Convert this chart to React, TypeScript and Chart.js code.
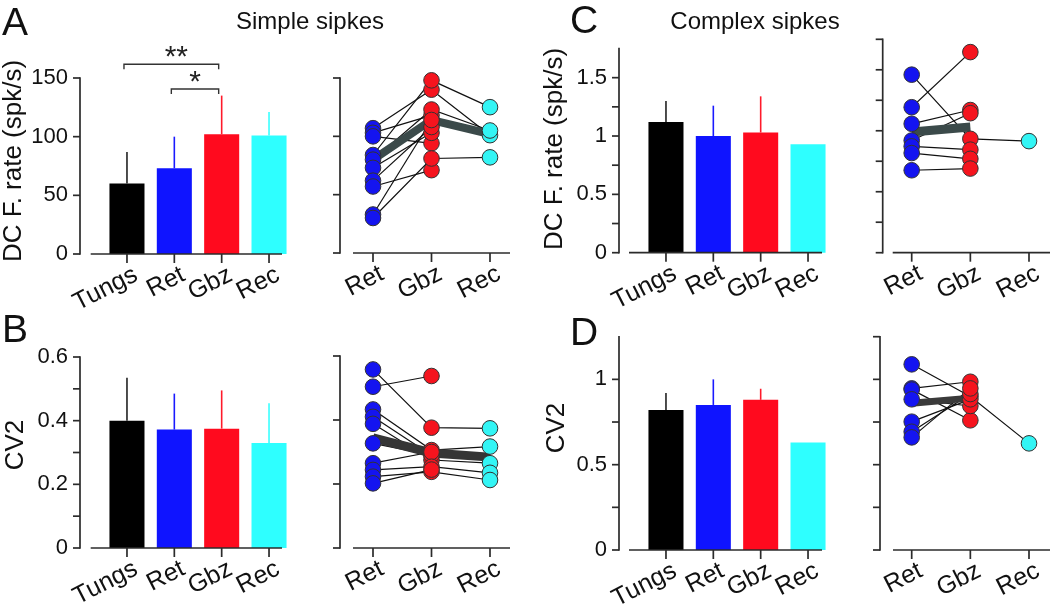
import React, { useEffect, useRef } from 'react';
import { Chart, registerables } from 'chart.js';

Chart.register(...registerables);

const W = 1050;
const H = 605;
const FONT = "'Liberation Sans', Arial, Helvetica, sans-serif";

// ---------------- categories ----------------
const barLabels = ['Tungs', 'Ret', 'Gbz', 'Rec'];
const pairLabels = ['Ret', 'Gbz', 'Rec'];

// ---------------- A: simple spikes, DC firing rate (bars) ----------------
const ssRateMean = [60, 73, 102, 101];
const ssRateErrTop = [87, 100, 135, 121];
const ssRateTickLabels = [0, 50, 100, 150];
const ssRateTickMarks = [0, 50, 100, 150];
// significance brackets (category index pairs, bracket level)
const sigFrom = [0, 1];
const sigTo = [2, 2];
const sigLevel = [161.7, 140.6];
const sigText = ['**', '*'];

// A: paired cells
const ssRateRet = [107, 103, 100, 84, 80, 73, 62, 57, 33, 30];
const ssRateGbz = [140, 118, 94, 148, 123, 103, 108, 71, 114, 81];
const ssRateRec = [101, null, null, 125, 105, null, null, null, null, 82];
const ssRatePairMean = [80, 114, 102];

// ---------------- B: simple spikes, CV2 ----------------
const ssCv2Mean = [0.4, 0.372, 0.375, 0.33];
const ssCv2ErrTop = [0.535, 0.485, 0.495, 0.455];
const ssCv2TickLabels = [0, 0.2, 0.4, 0.6];
const ssCv2TickMarks = [0, 0.1, 0.2, 0.3, 0.4, 0.5, 0.6];
const ssCv2PairTicks = [0, 0.2, 0.4, 0.6];

const ssCv2Ret = [0.558, 0.504, 0.433, 0.41, 0.388, 0.327, 0.265, 0.244, 0.223, 0.202];
const ssCv2Gbz = [0.376, 0.5375, 0.306, 0.29, 0.275, 0.29, 0.3, 0.254, 0.238, 0.245];
const ssCv2Rec = [0.374, null, 0.317, null, 0.265, null, null, 0.235, 0.2125, null];
const ssCv2PairMean = [0.344, 0.297, 0.284];

// ---------------- C: complex spikes, DC firing rate ----------------
const csRateMean = [1.12, 1.0, 1.03, 0.93];
const csRateErrTop = [1.3, 1.26, 1.34, null];
const csRateTickLabels = [0, 0.5, 1, 1.5];
const csRateTickMarks = [0, 0.25, 0.5, 0.75, 1, 1.25, 1.5];
const csRatePairTicks = [0, 0.25, 0.5, 0.75, 1, 1.25, 1.5, 1.75];

const csRateRet = [1.46, 1.193, 1.057, 0.92, 0.872, 0.817, 0.676];
const csRateGbz = [0.934, 1.645, 1.17, 1.144, 0.845, 0.77, 0.69];
const csRateRec = [0.915, null, null, null, null, null, null];
const csRatePairMean = [0.99, 1.03, null];

// ---------------- D: complex spikes, CV2 ----------------
const csCv2Mean = [0.82, 0.85, 0.88, 0.63];
const csCv2ErrTop = [0.92, 1.0, 0.945, null];
const csCv2TickLabels = [0, 0.5, 1];
const csCv2TickMarks = [0, 0.25, 0.5, 0.75, 1];
const csCv2PairTicks = [0, 0.25, 0.5, 0.75, 1, 1.25];

const csCv2Ret = [1.088, 0.947, 0.94, 0.883, 0.752, 0.693, 0.66];
const csCv2Gbz = [0.9, 0.986, 0.76, 0.844, 0.883, 0.914, 0.947];
const csCv2Rec = [0.625, null, null, null, null, null, null];
const csCv2PairMean = [0.86, 0.89, null];

// ---------------- styles ----------------
const barColors = ['#000000', '#0f14ff', '#ff0a1e', '#2effff'];
const errColors = ['#222222', '#1a1aff', '#ff1a2a', '#3affff'];
const ptColors = ['#1414f0', '#f5141e', '#33f5f5'];

const fmt = (v: number) => String(Math.round(v * 100) / 100);

const decorPlugin = {
  id: 'decor',
  afterDraw(chart: any) {
    const o = chart.options.plugins.decor;
    if (!o) return;
    const ctx = chart.ctx;
    const xs = chart.scales.x;
    const ys = chart.scales.y;
    const line = (x1: number, y1: number, x2: number, y2: number) => {
      ctx.beginPath();
      ctx.moveTo(x1, y1);
      ctx.lineTo(x2, y2);
      ctx.stroke();
    };
    ctx.save();
    ctx.lineCap = 'butt';
    // error bars
    if (o.err) {
      ctx.lineWidth = 1.6;
      o.err.top.forEach((t: number | null, i: number) => {
        if (t == null) return;
        ctx.strokeStyle = errColors[i];
        const x = xs.getPixelForValue(i);
        line(x, ys.getPixelForValue(o.err.base[i]), x, ys.getPixelForValue(t));
      });
    }
    // axes
    const a = o.axes;
    ctx.strokeStyle = '#2b2b2b';
    ctx.lineWidth = 1.7;
    const y0 = ys.getPixelForValue(0);
    line(a.yAxisX, ys.getPixelForValue(a.yTop) - 0.8, a.yAxisX, y0 + 0.8);
    a.yTicks.forEach((v: number) => {
      const y = ys.getPixelForValue(v);
      line(a.yAxisX - 7, y, a.yAxisX, y);
    });
    line(a.xFrom, y0, a.xTo, y0);
    for (let i = 0; i < xs.ticks.length; i++) {
      const x = xs.getPixelForTick(i);
      line(x, y0, x, y0 + 9);
    }
    // significance brackets
    if (o.sig) {
      ctx.lineWidth = 1.4;
      ctx.strokeStyle = '#333';
      o.sig.from.forEach((f: number, k: number) => {
        const x1 = xs.getPixelForValue(f) - 3;
        const x2 = xs.getPixelForValue(o.sig.to[k]) - 3;
        const y = ys.getPixelForValue(o.sig.level[k]);
        ctx.beginPath();
        ctx.moveTo(x1, y + 5);
        ctx.lineTo(x1, y);
        ctx.lineTo(x2, y);
        ctx.lineTo(x2, y + 5);
        ctx.stroke();
        ctx.fillStyle = '#222';
        ctx.font = `30px ${FONT}`;
        ctx.textAlign = 'center';
        ctx.textBaseline = 'alphabetic';
        const dx = o.sig.text[k].length > 1 ? 5 : 0;
        ctx.fillText(o.sig.text[k], (x1 + x2) / 2 + dx, y - 15 + 17);
      });
    }
    // free texts
    (o.texts || []).forEach((t: any) => {
      ctx.fillStyle = '#111';
      ctx.font = `${t.size}px ${FONT}`;
      ctx.textBaseline = 'alphabetic';
      if (t.rotate) {
        ctx.save();
        ctx.translate(t.x, t.y);
        ctx.rotate(-Math.PI / 2);
        ctx.textAlign = 'center';
        ctx.fillText(t.text, 0, 0);
        ctx.restore();
      } else {
        ctx.textAlign = t.align || 'left';
        ctx.fillText(t.text, t.x, t.y);
      }
    });
    ctx.restore();
  },
};
Chart.register(decorPlugin);

type Area = { left: number; right: number; top: number; bottom: number };

const xTickOpts = {
  autoSkip: false,
  minRotation: 27,
  maxRotation: 27,
  padding: 6,
  labelOffset: 9,
  color: '#111',
  font: { family: FONT, size: 25 },
};

function barChart(p: {
  values: number[];
  errTop: (number | null)[];
  max: number;
  area: Area;
  labels: number[];
  marks: number[];
  yAxisX: number;
  xFrom: number;
  xTo: number;
  texts: any[];
  sig?: any;
}) {
  return () => ({
    type: 'bar',
    data: {
      labels: barLabels,
      datasets: [
        {
          data: p.values,
          backgroundColor: barColors,
          borderWidth: 0,
          barPercentage: 0.74,
          categoryPercentage: 1,
          clip: false,
        },
      ],
    },
    options: {
      responsive: false,
      animation: false,
      events: [],
      layout: { autoPadding: false, padding: { left: 0, top: p.area.top, right: W - p.area.right, bottom: 0 } },
      plugins: {
        legend: { display: false },
        tooltip: { enabled: false },
        decor: {
          err: { top: p.errTop, base: p.values },
          axes: { yAxisX: p.yAxisX, yTop: p.max, yTicks: p.marks, xFrom: p.xFrom, xTo: p.xTo },
          texts: p.texts,
          sig: p.sig,
        },
      },
      scales: {
        x: {
          type: 'category',
          offset: true,
          grid: { display: false, drawTicks: false },
          border: { display: false },
          ticks: xTickOpts,
          afterFit: (s: any) => {
            s.height = H - p.area.bottom;
          },
        },
        y: {
          type: 'linear',
          min: 0,
          max: p.max,
          grid: { display: false, drawTicks: false },
          border: { display: false },
          ticks: {
            padding: p.area.left - p.yAxisX + 12,
            color: '#111',
            font: { family: FONT, size: 22 },
            callback: (v: number) => fmt(v),
          },
          afterBuildTicks: (s: any) => {
            s.ticks = p.labels.map((v) => ({ value: v }));
          },
          afterFit: (s: any) => {
            s.width = p.area.left;
          },
        },
      },
    },
  });
}

function pairChart(p: {
  ret: number[];
  gbz: number[];
  rec: (number | null)[];
  mean: (number | null)[];
  meanColor: string;
  meanWidth: number;
  max: number;
  area: Area;
  marks: number[];
  yAxisX: number;
  xFrom: number;
  xTo: number;
  texts: any[];
}) {
  return () => {
    const ds: any[] = [];
    [p.ret, p.gbz, p.rec].forEach((arr, k) => {
      ds.push({
        data: (arr as (number | null)[])
          .filter((v) => v != null)
          .map((v) => ({ x: pairLabels[k], y: v })),
        showLine: false,
        pointRadius: 7.8,
        pointBackgroundColor: ptColors[k],
        pointBorderColor: '#333',
        pointBorderWidth: 1,
        order: 0,
        clip: false,
      });
    });
    ds.push({
      data: p.mean,
      borderColor: p.meanColor,
      borderWidth: p.meanWidth,
      pointRadius: 0,
      order: 1,
      clip: false,
      borderCapStyle: 'butt',
    });
    p.ret.forEach((r, i) => {
      ds.push({
        data: [r, p.gbz[i], p.rec[i]],
        borderColor: '#111',
        borderWidth: 1.2,
        pointRadius: 0,
        order: 2,
        clip: false,
      });
    });
    return {
      type: 'line',
      data: { labels: pairLabels, datasets: ds },
      options: {
        responsive: false,
        animation: false,
        events: [],
        layout: { autoPadding: false, padding: { left: 0, top: p.area.top, right: W - p.area.right, bottom: 0 } },
        plugins: {
          legend: { display: false },
          tooltip: { enabled: false },
          decor: {
            axes: { yAxisX: p.yAxisX, yTop: p.max, yTicks: p.marks, xFrom: p.xFrom, xTo: p.xTo },
            texts: p.texts,
          },
        },
        scales: {
          x: {
            type: 'category',
            offset: false,
            grid: { display: false, drawTicks: false },
            border: { display: false },
            ticks: xTickOpts,
            afterFit: (s: any) => {
              s.height = H - p.area.bottom;
            },
          },
          y: {
            type: 'linear',
            min: 0,
            max: p.max,
            grid: { display: false, drawTicks: false },
            border: { display: false },
            ticks: { display: false },
            afterFit: (s: any) => {
              s.width = p.area.left;
            },
          },
        },
      },
    };
  };
}

const chartFactories = [
  barChart({
    values: ssRateMean,
    errTop: ssRateErrTop,
    max: 150,
    area: { left: 103.3, right: 292.7, top: 78, bottom: 254 },
    labels: ssRateTickLabels,
    marks: ssRateTickMarks,
    yAxisX: 80,
    xFrom: 90.7,
    xTo: 282,
    texts: [
      { text: 'A', x: 2, y: 35, size: 39 },
      { text: 'DC F. rate (spk/s)', x: 21, y: 161, size: 26, rotate: true },
    ],
    sig: { from: sigFrom, to: sigTo, level: sigLevel, text: sigText },
  }),
  pairChart({
    ret: ssRateRet,
    gbz: ssRateGbz,
    rec: ssRateRec,
    mean: ssRatePairMean,
    meanColor: '#3b4a4a',
    meanWidth: 8,
    max: 150,
    area: { left: 373, right: 490, top: 78, bottom: 253 },
    marks: ssRateTickMarks,
    yAxisX: 340,
    xFrom: 353,
    xTo: 510,
    texts: [{ text: 'Simple sipkes', x: 310, y: 29, size: 24, align: 'center' }],
  }),
  barChart({
    values: ssCv2Mean,
    errTop: ssCv2ErrTop,
    max: 0.6,
    area: { left: 103.3, right: 292.7, top: 357, bottom: 548 },
    labels: ssCv2TickLabels,
    marks: ssCv2TickMarks,
    yAxisX: 80,
    xFrom: 90.7,
    xTo: 282,
    texts: [
      { text: 'B', x: 2, y: 342, size: 39 },
      { text: 'CV2', x: 23, y: 445, size: 26, rotate: true },
    ],
  }),
  pairChart({
    ret: ssCv2Ret,
    gbz: ssCv2Gbz,
    rec: ssCv2Rec,
    mean: ssCv2PairMean,
    meanColor: '#353535',
    meanWidth: 9,
    max: 0.6,
    area: { left: 373, right: 490, top: 356, bottom: 548 },
    marks: ssCv2PairTicks,
    yAxisX: 340,
    xFrom: 353,
    xTo: 510,
    texts: [],
  }),
  barChart({
    values: csRateMean,
    errTop: csRateErrTop,
    max: 1.75,
    area: { left: 642.3, right: 831.7, top: 39.3, bottom: 252.7 },
    labels: csRateTickLabels,
    marks: csRateTickMarks,
    yAxisX: 619,
    xFrom: 629,
    xTo: 822,
    texts: [
      { text: 'C', x: 570, y: 33, size: 39 },
      { text: 'DC F. rate (spk/s)', x: 562, y: 149, size: 26, rotate: true },
    ],
  }),
  pairChart({
    ret: csRateRet,
    gbz: csRateGbz,
    rec: csRateRec,
    mean: csRatePairMean,
    meanColor: '#3b4a4a',
    meanWidth: 9,
    max: 1.75,
    area: { left: 911.7, right: 1029, top: 39.3, bottom: 252.7 },
    marks: csRatePairTicks,
    yAxisX: 882.7,
    xFrom: 892.7,
    xTo: 1050,
    texts: [{ text: 'Complex sipkes', x: 755, y: 29, size: 24, align: 'center' }],
  }),
  barChart({
    values: csCv2Mean,
    errTop: csCv2ErrTop,
    max: 1.25,
    area: { left: 642.3, right: 831.7, top: 336.7, bottom: 550 },
    labels: csCv2TickLabels,
    marks: csCv2TickMarks,
    yAxisX: 619,
    xFrom: 629,
    xTo: 822,
    texts: [
      { text: 'D', x: 570, y: 345, size: 39 },
      { text: 'CV2', x: 564, y: 428, size: 26, rotate: true },
    ],
  }),
  pairChart({
    ret: csCv2Ret,
    gbz: csCv2Gbz,
    rec: csCv2Rec,
    mean: csCv2PairMean,
    meanColor: '#3a3a3a',
    meanWidth: 7,
    max: 1.25,
    area: { left: 911.7, right: 1029, top: 336.7, bottom: 550 },
    marks: csCv2PairTicks,
    yAxisX: 880,
    xFrom: 893,
    xTo: 1050,
    texts: [],
  }),
];

function ChartCanvas({ factory }: { factory: () => any }) {
  const ref = useRef<HTMLCanvasElement | null>(null);
  useEffect(() => {
    const c = new Chart(ref.current as HTMLCanvasElement, factory());
    return () => c.destroy();
  }, [factory]);
  return <canvas ref={ref} width={W} height={H} style={{ position: 'absolute', left: 0, top: 0 }} />;
}

export default function App() {
  return (
    <div
      style={{
        position: 'fixed',
        left: 0,
        top: 0,
        width: W,
        height: H,
        background: '#ffffff',
        overflow: 'hidden',
      }}
    >
      {chartFactories.map((f, i) => (
        <ChartCanvas key={i} factory={f} />
      ))}
    </div>
  );
}
